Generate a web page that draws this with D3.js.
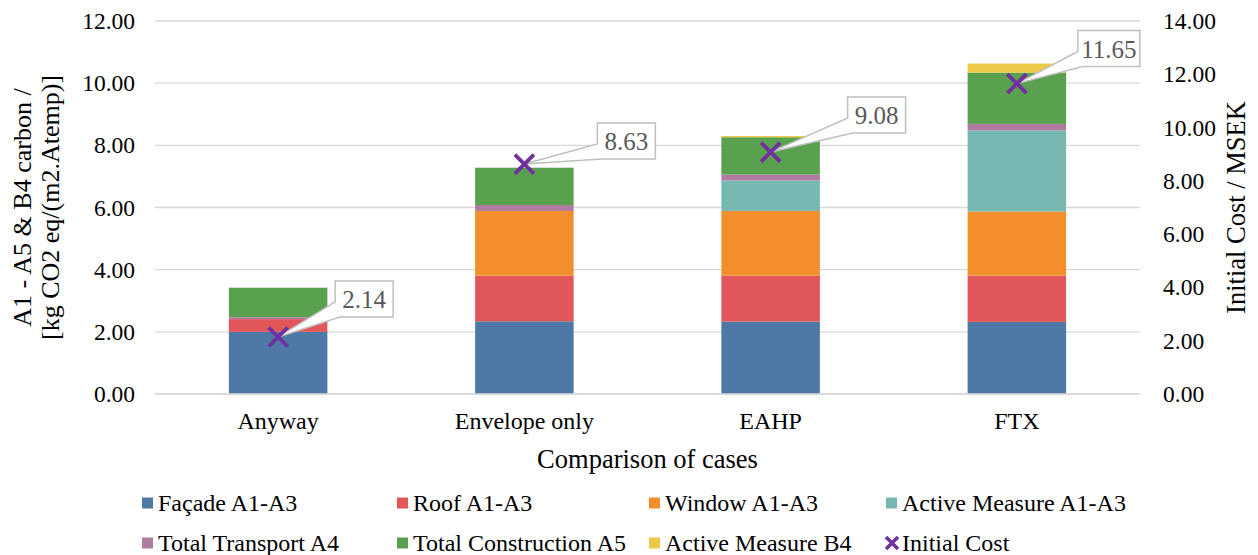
<!DOCTYPE html>
<html>
<head>
<meta charset="utf-8">
<script src="https://cdn.jsdelivr.net/npm/d3@7"></script>
<style>
  html, body { margin: 0; padding: 0; background: #fff; }
  svg { display: block; }
  text { font-family: "Liberation Serif", "Times New Roman", serif; }
</style>
</head>
<body>
<svg id="chart" width="1258" height="555"></svg>
<script>
// ---- Data ----
const categories = ["Anyway", "Envelope only", "EAHP", "FTX"];
const seriesNames = ["Façade A1-A3", "Roof A1-A3", "Window A1-A3", "Active Measure A1-A3",
                     "Total Transport A4", "Total Construction A5", "Active Measure B4"];
const facade       = [2.00, 2.34, 2.33, 2.32];
const roof         = [0.41, 1.47, 1.48, 1.49];
const windowA      = [0.00, 2.08, 2.08, 2.06];
const activeA      = [0.00, 0.00, 0.98, 2.61];
const transport    = [0.06, 0.19, 0.19, 0.21];
const construction = [0.95, 1.20, 1.20, 1.65];
const activeB4     = [0.00, 0.00, 0.04, 0.29];
const initialCost  = [2.14, 8.63, 9.08, 11.65];
const leftTicks  = [0, 2, 4, 6, 8, 10, 12];
const rightTicks = [0, 2, 4, 6, 8, 10, 12, 14];

// ---- Styles ----
const colors = ["#4e79a7", "#e15759", "#f28e2b", "#76b7b2", "#b07aa1", "#59a14f", "#edc948"];
const markerColor = "#7030a0";
const labelOffsets = [[57, -56], [73, -41], [77, -55], [61, -53]]; // callout placement (px)

const svg = d3.select("#chart");
const margin = { left: 155, right: 118, top: 21, bottom: 161 };
const W = 1258, H = 555;
const x0 = margin.left, x1 = W - margin.right, yTop = margin.top, yBot = H - margin.bottom;

const x = d3.scaleBand().domain(categories).range([x0, x1]).paddingInner(0.6).paddingOuter(0.3);
const yL = d3.scaleLinear().domain([0, 12]).range([yBot, yTop]);
const yR = d3.scaleLinear().domain([0, 14]).range([yBot, yTop]);

// gridlines
svg.append("g").selectAll("line").data(leftTicks).join("line")
  .attr("x1", x0).attr("x2", x1)
  .attr("y1", d => yL(d)).attr("y2", d => yL(d))
  .attr("stroke", "#d9d9d9").attr("stroke-width", 1.3);

// left axis
const axL = svg.append("g").attr("transform", `translate(${x0},0)`)
  .call(d3.axisLeft(yL).tickValues(leftTicks).tickFormat(d3.format(".2f")).tickSize(0).tickPadding(20));
axL.select(".domain").remove();
axL.selectAll("text").attr("font-size", 23.5).attr("fill", "#000");

// right axis
const axR = svg.append("g").attr("transform", `translate(${x1},0)`)
  .call(d3.axisRight(yR).tickValues(rightTicks).tickFormat(d3.format(".2f")).tickSize(0).tickPadding(23));
axR.select(".domain").remove();
axR.selectAll("text").attr("font-size", 23.5).attr("fill", "#000");

// stacked bars
const table = categories.map((c, i) => ({
  cat: c,
  s0: facade[i], s1: roof[i], s2: windowA[i], s3: activeA[i],
  s4: transport[i], s5: construction[i], s6: activeB4[i]
}));
const keys = ["s0", "s1", "s2", "s3", "s4", "s5", "s6"];
const stacked = d3.stack().keys(keys)(table);
svg.append("g").selectAll("g").data(stacked).join("g")
  .attr("fill", (d, i) => colors[i])
  .selectAll("rect").data(d => d).join("rect")
  .attr("x", d => x(d.data.cat))
  .attr("width", x.bandwidth())
  .attr("y", d => yL(d[1]))
  .attr("height", d => Math.max(0, yL(d[0]) - yL(d[1])));

// baseline
svg.append("line").attr("x1", x0).attr("x2", x1).attr("y1", yBot).attr("y2", yBot)
  .attr("stroke", "#d9d9d9").attr("stroke-width", 1.3);

// category labels
svg.append("g").selectAll("text").data(categories).join("text")
  .attr("x", d => x(d) + x.bandwidth() / 2).attr("y", yBot + 35)
  .attr("text-anchor", "middle").attr("font-size", 24).text(d => d);

// axis titles
svg.append("text").attr("x", (x0 + x1) / 2).attr("y", yBot + 74)
  .attr("text-anchor", "middle").attr("font-size", 26.5).text("Comparison of cases");
const lt = svg.append("text").attr("transform", `translate(31,${(yTop + yBot) / 2}) rotate(-90)`)
  .attr("text-anchor", "middle").attr("font-size", 26);
lt.append("tspan").attr("x", 0).attr("dy", 0).text("A1 - A5 & B4 carbon /");
lt.append("tspan").attr("x", 0).attr("dy", 28).text("[kg CO2 eq/(m2.Atemp)]");
svg.append("text").attr("transform", `translate(1245,${(yTop + yBot) / 2}) rotate(-90)`)
  .attr("text-anchor", "middle").attr("font-size", 26.5).text("Initial Cost / MSEK");

// initial cost markers + callouts
function xMarker(g, cx, cy, r) {
  g.append("path").attr("d", `M${cx - r},${cy - r}L${cx + r},${cy + r}M${cx - r},${cy + r}L${cx + r},${cy - r}`)
    .attr("stroke", markerColor).attr("stroke-width", 3.8).attr("fill", "none");
}
const callG = svg.append("g");
initialCost.forEach((v, i) => {
  const cx = x(categories[i]) + x.bandwidth() / 2;
  const cy = yR(v);
  const [dx, dy] = labelOffsets[i];
  const txt = v.toFixed(2);
  const w = txt.length > 4 ? 62 : 58, h = 36;
  const bx = cx + dx, by = cy + dy;
  const path = `M${bx},${by}L${bx + w},${by}L${bx + w},${by + h}L${bx + 5},${by + h}L${cx},${cy}L${bx},${by + h * 0.58}Z`;
  callG.append("path").attr("d", path).attr("fill", "#fff").attr("stroke", "#bfbfbf").attr("stroke-width", 1.5);
  callG.append("text").attr("x", bx + w / 2).attr("y", by + h / 2 + 9)
    .attr("text-anchor", "middle").attr("font-size", 25).attr("fill", "#595959").text(txt);
});
initialCost.forEach((v, i) => {
  const cx = x(categories[i]) + x.bandwidth() / 2;
  xMarker(callG, cx, yR(v), 9.5);
});

// legend
const legendItems = [
  { name: seriesNames[0], type: "sq", c: colors[0], col: 0, row: 0 },
  { name: seriesNames[1], type: "sq", c: colors[1], col: 1, row: 0 },
  { name: seriesNames[2], type: "sq", c: colors[2], col: 2, row: 0 },
  { name: seriesNames[3], type: "sq", c: colors[3], col: 3, row: 0 },
  { name: seriesNames[4], type: "sq", c: colors[4], col: 0, row: 1 },
  { name: seriesNames[5], type: "sq", c: colors[5], col: 1, row: 1 },
  { name: seriesNames[6], type: "sq", c: colors[6], col: 2, row: 1 },
  { name: "Initial Cost", type: "x", c: markerColor, col: 3, row: 1 }
];
const colX = [142, 397, 649, 886];
const rowY = [503, 543];
const lg = svg.append("g");
legendItems.forEach(it => {
  const lx = colX[it.col], ly = rowY[it.row];
  if (it.type === "sq") {
    lg.append("rect").attr("x", lx).attr("y", ly - 5.5).attr("width", 11).attr("height", 11).attr("fill", it.c);
  } else {
    const cx = lx + 6, cy = ly;
    lg.append("path").attr("d", `M${cx - 6},${cy - 6}L${cx + 6},${cy + 6}M${cx - 6},${cy + 6}L${cx + 6},${cy - 6}`)
      .attr("stroke", it.c).attr("stroke-width", 3.6);
  }
  lg.append("text").attr("x", lx + 16).attr("y", ly + 8).attr("font-size", 24).text(it.name);
});
</script>
</body>
</html>
